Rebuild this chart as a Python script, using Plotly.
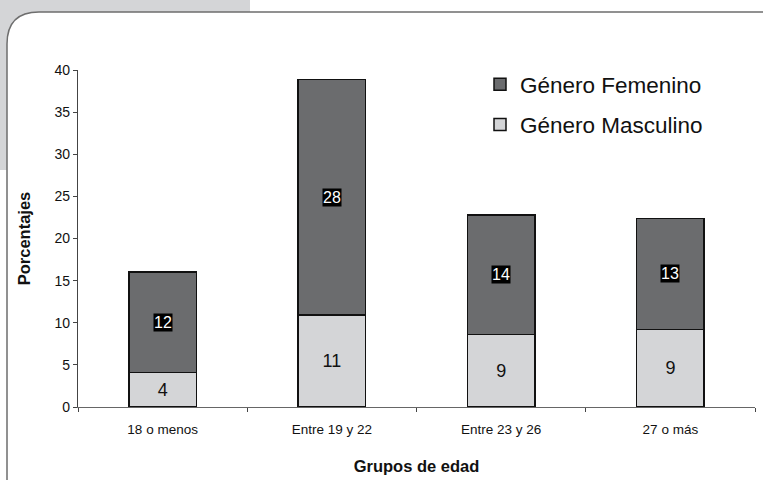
import plotly.graph_objects as go

categories = ["18 o menos", "Entre 19 y 22", "Entre 23 y 26", "27 o más"]
masculino = [4.1, 10.9, 8.6, 9.2]
femenino = [11.9, 28.0, 14.2, 13.2]
y_ticks = [0, 5, 10, 15, 20, 25, 30, 35, 40]

W, H = 763, 480
ML, MR, MT, MB = 78, 8, 70, 73
PW, PH = W - ML - MR, H - MT - MB

def px(x):
    return (x - ML) / PW

def py(y):
    return 1 - (y - MT) / PH

FONT = "Liberation Sans, Arial, sans-serif"
NARROW = "Liberation Sans Narrow, Arial Narrow, Liberation Sans, Arial, sans-serif"

fig = go.Figure()
fig.add_trace(go.Bar(
    x=categories, y=masculino, name="Género Masculino",
    marker=dict(color="#d4d5d7", line=dict(color="#111111", width=1.5)),
    text=[f"{v:.0f}" for v in masculino], textposition="inside",
    insidetextanchor="middle", textfont=dict(size=18, color="#111111", family=FONT),
    width=0.4, legendrank=2, legendgroup="m",
))
fig.add_trace(go.Bar(
    x=categories, y=femenino, name="Género Femenino",
    marker=dict(color="#6b6c6e", line=dict(color="#111111", width=1.5)),
    width=0.4, legendrank=1, legendgroup="f",
))

for c, m, f in zip(categories, masculino, femenino):
    fig.add_annotation(x=c, y=m + f / 2, text=f"{f:.0f}", showarrow=False,
                       bgcolor="#000000", borderpad=0,
                       font=dict(size=16, color="#ffffff", family=FONT))

# background decorations
shapes = []
shapes.append(dict(type="rect", xref="paper", yref="paper",
                   x0=px(0), x1=px(250), y0=py(170), y1=py(0),
                   fillcolor="#d4d5d7", line=dict(width=0), layer="below"))
r = 32
x0, y0, x1, y1 = 7, 12, 800, 520
path = (f"M {px(x0)},{py(y1)} L {px(x0)},{py(y0 + r)} "
        f"Q {px(x0)},{py(y0)} {px(x0 + r)},{py(y0)} "
        f"L {px(x1)},{py(y0)} L {px(x1)},{py(y1)} Z")
shapes.append(dict(type="path", xref="paper", yref="paper", path=path,
                   fillcolor="#ffffff", line=dict(color="#6e6e6e", width=1.5),
                   layer="below"))

fig.update_layout(
    width=W, height=H, margin=dict(l=ML, r=MR, t=MT, b=MB),
    barmode="stack", bargap=0.6,
    paper_bgcolor="#ffffff", plot_bgcolor="rgba(0,0,0,0)",
    font=dict(family=FONT, color="#111111"),
    shapes=shapes,
    showlegend=True,
    legend=dict(x=px(480), y=py(63), xanchor="left", yanchor="top",
                font=dict(size=22.5, family=FONT, color="#111111"),
                bgcolor="rgba(0,0,0,0)", tracegroupgap=8,
                itemwidth=30),
    xaxis=dict(
        showline=True, linecolor="#666666", linewidth=1.2,
        ticks="outside", tickson="boundaries", ticklen=4, tickcolor="#444444",
        ticklabelstandoff=10,
        tickfont=dict(size=13.5, family=NARROW, color="#111111"),
        title=dict(text="<b>Grupos de edad</b>", font=dict(size=16.5, family=FONT),
                   standoff=24),
        showgrid=False,
    ),
    yaxis=dict(
        range=[0, 40], tickvals=y_ticks,
        showline=True, linecolor="#444444", linewidth=1.2,
        ticks="outside", ticklen=4, tickcolor="#444444",
        tickfont=dict(size=14, family=NARROW, color="#111111"),
        title=dict(text="<b>Porcentajes</b>", font=dict(size=16.5, family=FONT),
                   standoff=19),
        showgrid=False, zeroline=False,
    ),
)

fig.write_html("out.html", config={"displayModeBar": False},
               post_script="document.body.style.margin='0';document.body.style.overflow='hidden';")
